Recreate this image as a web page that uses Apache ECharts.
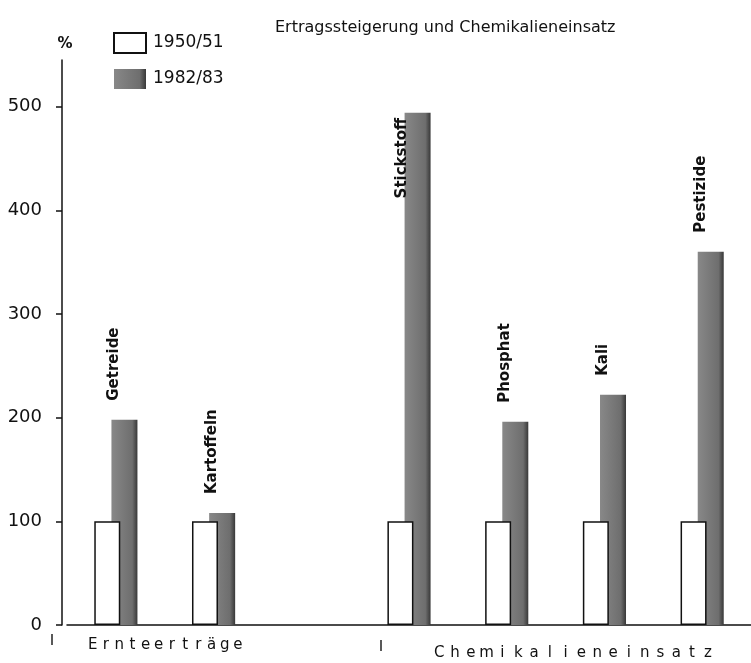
<!DOCTYPE html>
<html>
<head>
<meta charset="utf-8">
<script src="https://cdn.jsdelivr.net/npm/echarts@6/dist/echarts.min.js"></script>
<style>html,body{margin:0;padding:0;background:#fff;}#c{width:751px;height:663px;}</style>
</head>
<body>
<div id="c"></div>
<script>
const categories = ['Getreide', 'Kartoffeln', '', 'Stickstoff', 'Phosphat', 'Kali', 'Pestizide'];
const series1950 = [100, 100, null, 100, 100, 100, 100];
const series1982 = [198, 108, null, 494, 196, 222, 360];
const yTicks = [0, 100, 200, 300, 400, 500];
const seriesNames = ['1950/51', '1982/83'];
const titleText = 'Ertragssteigerung und Chemikalieneinsatz';
const groupLabels = ['Ernteerträge', 'Chemikalieneinsatz'];

const FONT = 'DejaVu Sans';
const chart = echarts.init(document.getElementById('c'), null, {renderer: 'canvas'});

function spaced(str) {
  return str.split('').map(c => '{l|' + c + '}').join('');
}

const grayFill = {
  type: 'linear', x: 0, y: 0, x2: 1, y2: 0,
  colorStops: [
    {offset: 0, color: '#888888'},
    {offset: 0.8, color: '#6e6e6e'},
    {offset: 1, color: '#383838'}
  ]
};

const grayData = series1982.map((v, i) => {
  if (categories[i] === 'Stickstoff') {
    return {
      value: v,
      label: {
        position: 'insideTopLeft', distance: 5, offset: [0, 0],
        align: 'right', verticalAlign: 'bottom'
      }
    };
  }
  return v;
});

chart.setOption({
  animation: false,
  backgroundColor: '#ffffff',
  title: {
    text: titleText, left: 270, top: 15,
    textStyle: {fontFamily: FONT, fontSize: 16, fontWeight: 'normal', color: '#111'}
  },
  legend: {
    orient: 'vertical', left: 113, top: 32, padding: 0,
    itemWidth: 32, itemHeight: 20, itemGap: 15, icon: 'rect',
    data: seriesNames,
    textStyle: {fontFamily: FONT, fontSize: 17, color: '#111', padding: [0, 0, 0, 2]}
  },
  grid: {left: 67, top: 60, width: 690, bottom: 38},
  xAxis: {
    type: 'category', data: categories,
    axisLine: {lineStyle: {color: '#111', width: 1.5}},
    axisTick: {show: false},
    axisLabel: {show: false},
    splitLine: {show: false}
  },
  yAxis: {
    type: 'value', min: 0, max: 545, offset: 5,
    name: '%', nameLocation: 'end', nameGap: 8,
    nameTextStyle: {fontFamily: FONT, fontSize: 15, fontWeight: 'bold', color: '#111', padding: [0, 0, 0, 6]},
    axisLine: {show: true, lineStyle: {color: '#111', width: 1.5}},
    axisTick: {show: true, length: 6, inside: false, customValues: yTicks, lineStyle: {color: '#111', width: 1.5}},
    axisLabel: {customValues: yTicks, margin: 20, fontFamily: FONT, fontSize: 18, color: '#111'},
    splitLine: {show: false}
  },
  series: [
    {
      name: seriesNames[0], type: 'bar', data: series1950,
      barWidth: 26, barGap: '-34%', z: 3,
      itemStyle: {color: '#ffffff', borderColor: '#111', borderWidth: 1.5}
    },
    {
      name: seriesNames[1], type: 'bar', data: grayData,
      barWidth: 26, z: 2,
      itemStyle: {color: grayFill},
      label: {
        show: true,
        formatter: p => categories[p.dataIndex],
        position: 'top', distance: 19, rotate: 90,
        align: 'left', verticalAlign: 'middle', offset: [0, -10],
        fontFamily: FONT, fontSize: 15, fontWeight: 'bold', color: '#111'
      }
    }
  ],
  graphic: [
    {type: 'line', shape: {x1: 52, y1: 634, x2: 52, y2: 645}, style: {stroke: '#222', lineWidth: 1.5}},
    {type: 'line', shape: {x1: 381, y1: 640, x2: 381, y2: 651}, style: {stroke: '#222', lineWidth: 1.5}},
    {
      type: 'text', left: 88, top: 638,
      style: {text: spaced(groupLabels[0]), rich: {l: {width: 13.2, align: 'center', fontFamily: FONT, fontSize: 15, fill: '#111'}}}
    },
    {
      type: 'text', left: 434, top: 646,
      style: {text: spaced(groupLabels[1]), rich: {l: {width: 15.8, align: 'center', fontFamily: FONT, fontSize: 15, fill: '#111'}}}
    }
  ]
});
</script>
</body>
</html>
